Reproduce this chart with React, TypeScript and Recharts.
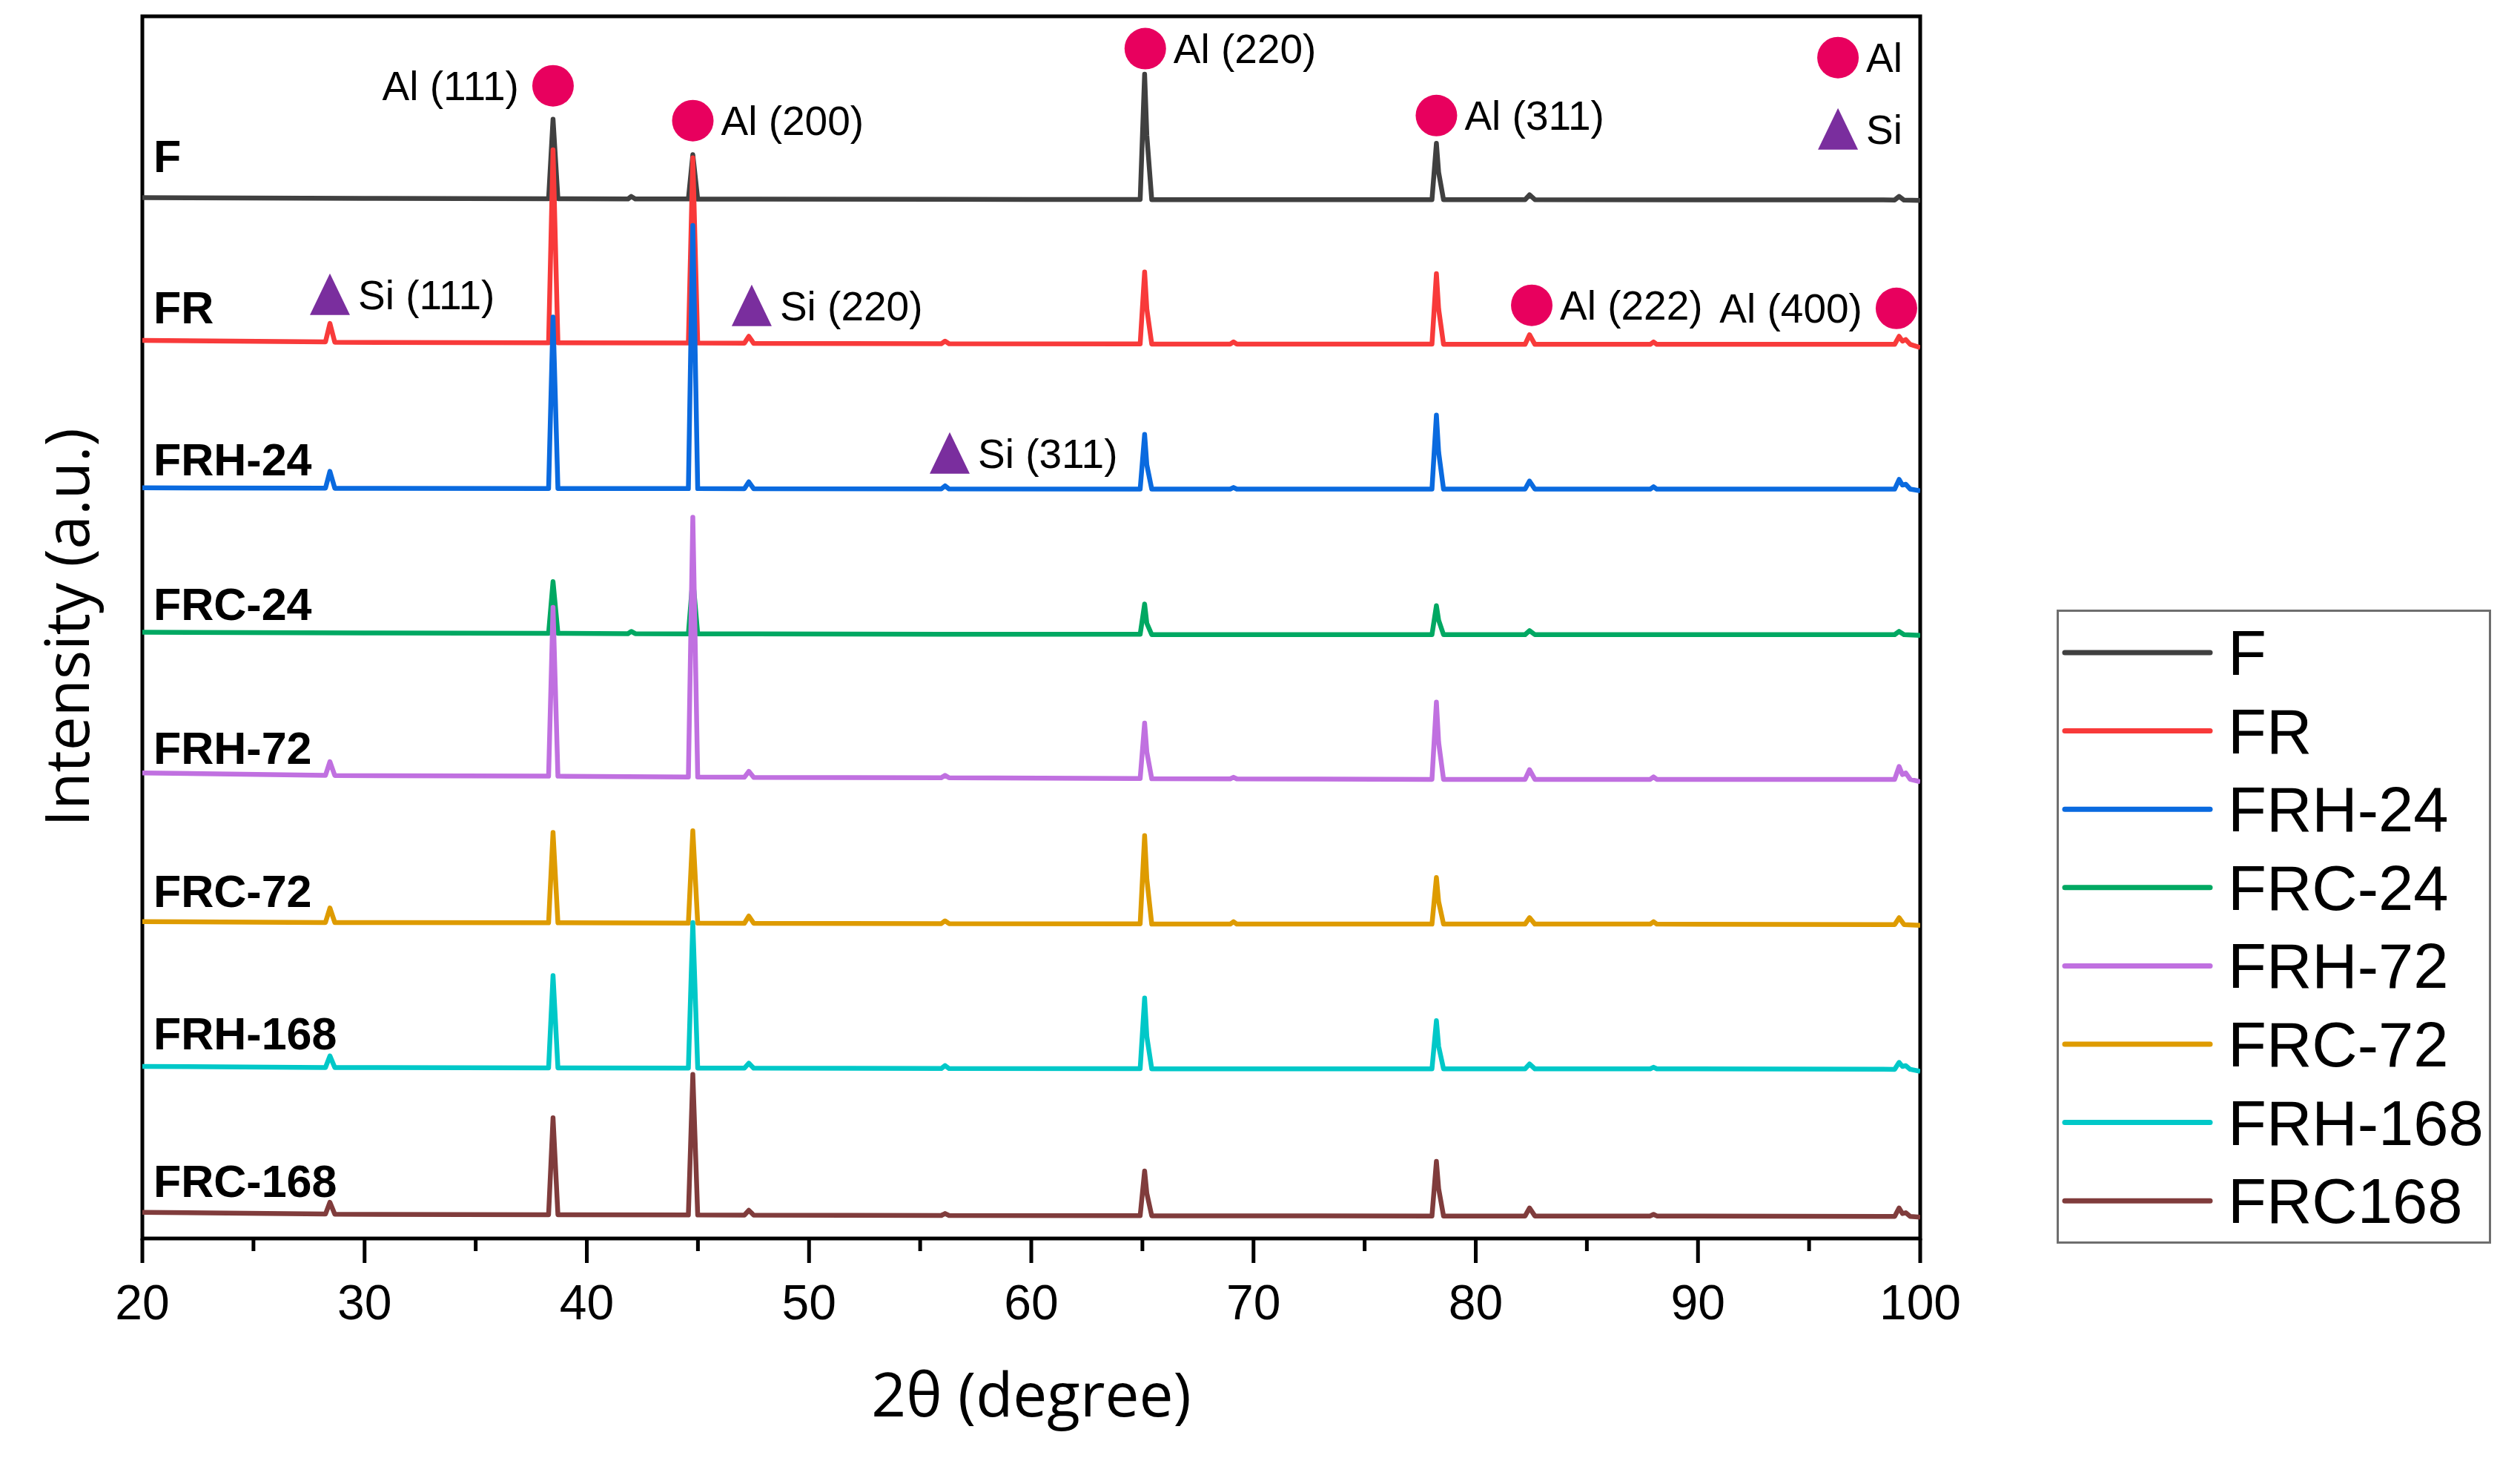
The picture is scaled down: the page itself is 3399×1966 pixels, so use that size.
import React from 'react';
import { LineChart, Line, XAxis, YAxis, ReferenceArea, ReferenceDot, Legend } from 'recharts';

// ---------- data ----------
const SERIES_NAMES = ['F', 'FR', 'FRH-24', 'FRC-24', 'FRH-72', 'FRC-72', 'FRH-168', 'FRC168'];
const SERIES_TAGS = ['F', 'FR', 'FRH-24', 'FRC-24', 'FRH-72', 'FRC-72', 'FRH-168', 'FRC-168'];
const SERIES_OFFSETS = [646, 556, 466, 375.5, 285.5, 195.5, 105.5, 14];

// [2θ, intensity above the series offset]
const F_PTS: [number, number][] = [
  [20, 1.2], [30, 0.8], [38.28, 0.6], [38.48, 50], [38.7, 0.6], [41.85, 0.4], [42.0, 2], [42.18, 0.4],
  [44.57, 0.4], [44.77, 28], [44.99, 0.3], [60, 0.1], [64.9, 0.1], [65.1, 78], [65.2, 40], [65.42, 0],
  [78.03, 0], [78.23, 35], [78.33, 17], [78.55, 0], [82.22, 0], [82.42, 3], [82.66, 0],
  [98.85, -0.2], [99.05, 2], [99.27, -0.3], [100, -0.5],
];
const FR_PTS: [number, number][] = [
  [20, 2.5], [28.24, 1.5], [28.44, 13], [28.66, 1.3], [38.28, 1], [38.48, 121], [38.7, 1],
  [44.57, 0.8], [44.77, 116], [44.99, 0.8], [47.09, 0.7], [47.29, 5], [47.51, 0.6],
  [55.95, 0.4], [56.12, 2], [56.3, 0.4], [64.9, 0.3], [65.1, 45], [65.2, 22], [65.42, 0.2],
  [68.95, 0.2], [69.1, 1.5], [69.25, 0.2], [78.03, 0.2], [78.23, 44], [78.33, 22], [78.55, 0.1],
  [82.22, 0], [82.42, 6], [82.66, 0], [87.85, 0], [88.0, 1.5], [88.15, 0],
  [98.85, 0], [99.05, 5], [99.2, 2], [99.35, 3], [99.55, 0], [100, -2],
];
const FRH24_PTS: [number, number][] = [
  [20, 0.8], [28.24, 0.6], [28.44, 11], [28.66, 0.5], [38.28, 0.4], [38.48, 107], [38.7, 0.4],
  [44.57, 0.3], [44.77, 164], [44.99, 0.3], [47.09, 0.2], [47.29, 4.5], [47.51, 0.2],
  [55.95, 0.1], [56.12, 2], [56.3, 0.1], [64.9, 0], [65.1, 34], [65.2, 15], [65.42, 0],
  [68.95, 0], [69.1, 1], [69.25, 0], [78.03, 0], [78.23, 46], [78.33, 23], [78.55, 0],
  [82.22, 0], [82.42, 5], [82.66, 0], [87.85, 0], [88.0, 1.5], [88.15, 0],
  [98.85, 0], [99.05, 6], [99.2, 2.5], [99.35, 3], [99.55, 0], [100, -1],
];
const FRC24_PTS: [number, number][] = [
  [20, 1.5], [30, 1], [38.28, 0.8], [38.48, 33], [38.7, 0.8], [41.85, 0.6], [42.0, 2], [42.18, 0.6],
  [44.57, 0.5], [44.77, 35], [44.99, 0.5], [60, 0.2], [64.9, 0.2], [65.1, 19], [65.2, 7], [65.42, 0],
  [78.03, 0], [78.23, 18], [78.33, 9], [78.55, 0], [82.22, 0], [82.42, 2.5], [82.66, 0],
  [98.85, 0], [99.05, 2], [99.27, 0], [100, -0.5],
];
const FRH72_PTS: [number, number][] = [
  [20, 4], [28.24, 2.5], [28.44, 11], [28.66, 2.4], [38.28, 2], [38.48, 107], [38.7, 2],
  [44.57, 1.5], [44.77, 163], [44.99, 1.5], [47.09, 1.3], [47.29, 5], [47.51, 1.2],
  [55.95, 1], [56.12, 2.5], [56.3, 1], [64.9, 0.5], [65.1, 35], [65.2, 17], [65.42, 0.4],
  [68.95, 0.3], [69.1, 1.3], [69.25, 0.3], [78.03, 0], [78.23, 48], [78.33, 23], [78.55, 0],
  [82.22, 0], [82.42, 6], [82.66, 0], [87.85, 0], [88.0, 1.5], [88.15, 0],
  [98.85, 0], [99.05, 8], [99.2, 3], [99.35, 4], [99.55, 0], [100, -1.5],
];
const FRC72_PTS: [number, number][] = [
  [20, 1.5], [28.24, 1], [28.44, 10], [28.66, 1], [38.28, 0.8], [38.48, 57], [38.7, 0.8],
  [44.57, 0.6], [44.77, 58], [44.99, 0.6], [47.09, 0.5], [47.29, 5], [47.51, 0.5],
  [55.95, 0.3], [56.12, 2], [56.3, 0.3], [64.9, 0.2], [65.1, 55], [65.2, 28], [65.42, 0],
  [68.95, 0], [69.1, 1.5], [69.25, 0], [78.03, 0], [78.23, 29], [78.33, 14], [78.55, 0],
  [82.22, 0], [82.42, 4], [82.66, 0], [87.85, 0], [88.0, 1.5], [88.15, 0],
  [98.85, -0.3], [99.05, 4], [99.27, -0.3], [100, -0.8],
];
const FRH168_PTS: [number, number][] = [
  [20, 1.5], [28.24, 0.8], [28.44, 8], [28.66, 0.8], [38.28, 0.6], [38.48, 58], [38.7, 0.6],
  [44.57, 0.5], [44.77, 91], [44.99, 0.5], [47.09, 0.4], [47.29, 3.5], [47.51, 0.4],
  [55.95, 0.2], [56.12, 2], [56.3, 0.2], [64.9, 0.1], [65.1, 44], [65.2, 20], [65.42, 0],
  [78.03, 0], [78.23, 30], [78.33, 14], [78.55, 0], [82.22, 0], [82.42, 3], [82.66, 0],
  [87.85, 0], [88.0, 1], [88.15, 0], [98.85, -0.3], [99.05, 4], [99.2, 1.5], [99.35, 2], [99.55, -0.3], [100, -1.5],
];
const FRC168_PTS: [number, number][] = [
  [20, 2.3], [28.24, 1.2], [28.44, 8.5], [28.66, 1.1], [38.28, 0.8], [38.48, 61], [38.7, 0.8],
  [44.57, 0.6], [44.77, 88], [44.99, 0.6], [47.09, 0.5], [47.29, 3.5], [47.51, 0.5],
  [55.95, 0.3], [56.12, 1.5], [56.3, 0.3], [64.9, 0.2], [65.1, 28], [65.2, 14], [65.42, 0.1],
  [78.03, 0], [78.23, 34], [78.33, 17], [78.55, 0], [82.22, 0], [82.42, 5], [82.66, 0],
  [87.85, 0], [88.0, 1], [88.15, 0], [98.85, -0.3], [99.05, 5], [99.2, 1.5], [99.35, 2], [99.55, -0.3], [100, -0.8],
];
const SERIES_POINTS = [F_PTS, FR_PTS, FRH24_PTS, FRC24_PTS, FRH72_PTS, FRC72_PTS, FRH168_PTS, FRC168_PTS];

const X_TICKS = [20, 25, 30, 35, 40, 45, 50, 55, 60, 65, 70, 75, 80, 85, 90, 95, 100];
const X_TICK_LABELS = ['20', '', '30', '', '40', '', '50', '', '60', '', '70', '', '80', '', '90', '', '100'];

// phase annotations (marker position in data units)
const ANNOTATIONS: { x: number; y: number; text: string; marker: 'circle' | 'triangle'; side: 'left' | 'right' }[] = [
  { x: 38.48, y: 716.8, text: 'Al (111)', marker: 'circle', side: 'left' },
  { x: 44.77, y: 695.1, text: 'Al (200)', marker: 'circle', side: 'right' },
  { x: 65.13, y: 739.9, text: 'Al (220)', marker: 'circle', side: 'right' },
  { x: 78.23, y: 698.3, text: 'Al (311)', marker: 'circle', side: 'right' },
  { x: 96.3, y: 734.3, text: 'Al', marker: 'circle', side: 'right' },
  { x: 96.3, y: 689.6, text: 'Si', marker: 'triangle', side: 'right' },
  { x: 28.44, y: 586.7, text: 'Si (111)', marker: 'triangle', side: 'right' },
  { x: 47.42, y: 579.8, text: 'Si (220)', marker: 'triangle', side: 'right' },
  { x: 56.33, y: 488, text: 'Si (311)', marker: 'triangle', side: 'right' },
  { x: 82.52, y: 580.3, text: 'Al (222)', marker: 'circle', side: 'right' },
  { x: 98.93, y: 578.4, text: 'Al (400)', marker: 'circle', side: 'left' },
];

// ---------- styles ----------
const SERIES_COLORS = ['#404040', '#F83A3A', '#0A6ADF', '#00A862', '#C070E0', '#DE9B00', '#00C8C8', '#803C3C'];
const LABEL_LIFT = [17, 13, 8.5, 9, 9.5, 10.5, 12, 12];
const AL_COLOR = '#E8005E';
const SI_COLOR = '#7A2E9E';
const SANS = '"Liberation Sans", Arial, sans-serif';
const TITLE_FONT = '"Open Sans", "Noto Sans", sans-serif';

const seriesData = SERIES_POINTS.map((pts, i) => pts.map(([x, v]) => ({ x, y: SERIES_OFFSETS[i] + v })));

const XTick = (props: any) => {
  const { x, y, index } = props;
  const label = X_TICK_LABELS[index] ?? '';
  const major = label !== '';
  return (
    <g>
      <line x1={x} x2={x} y1={y} y2={y + (major ? 33 : 17)} stroke="#000" strokeWidth={5} />
      {major && (
        <text x={x} y={y + 109} textAnchor="middle" fontSize={66} fontFamily={SANS} fill="#000">
          {label}
        </text>
      )}
    </g>
  );
};

const XTitle = (props: any) => {
  const vb = props.viewBox || { x: 192, y: 1670, width: 2398, height: 296 };
  return (
    <text x={vb.x + vb.width / 2} y={vb.y + 240} textAnchor="middle" fontSize={82} fontFamily={TITLE_FONT} fill="#000">
      2θ (degree)
    </text>
  );
};

const YTitle = (props: any) => {
  const vb = props.viewBox || { x: 0, y: 22, width: 192, height: 1648 };
  const cx = vb.x + 120;
  const cy = vb.y + vb.height / 2;
  return (
    <text x={cx} y={cy} transform={`rotate(-90 ${cx} ${cy})`} textAnchor="middle" fontSize={82} fontFamily={TITLE_FONT} fill="#000">
      Intensity (a.u.)
    </text>
  );
};

const makeMarker = (a: (typeof ANNOTATIONS)[number]) => (p: any) => {
  const { cx, cy } = p;
  const color = a.marker === 'circle' ? AL_COLOR : SI_COLOR;
  const tx = a.side === 'right' ? cx + 38 : cx - 46;
  return (
    <g>
      {a.marker === 'circle' ? (
        <circle cx={cx} cy={cy} r={28} fill={color} />
      ) : (
        <polygon points={`${cx},${cy - 29} ${cx - 27},${cy + 27} ${cx + 27},${cy + 27}`} fill={color} />
      )}
      <text x={tx} y={cy + 19} textAnchor={a.side === 'right' ? 'start' : 'end'} fontSize={55} fontFamily={SANS} fill="#000">
        {a.text}
      </text>
    </g>
  );
};

const makeTag = (text: string) => (p: any) => (
  <text x={p.cx} y={p.cy} fontSize={61} fontWeight="bold" fontFamily={SANS} fill="#000">
    {text}
  </text>
);

const LegendBox = (props: any) => {
  const payload = [...(props.payload || [])].sort(
    (a: any, b: any) => SERIES_NAMES.indexOf(a.value) - SERIES_NAMES.indexOf(b.value)
  );
  return (
    <svg width={586} height={855} style={{ display: 'block' }}>
      <rect x={1.5} y={1.5} width={583} height={852} fill="#fff" stroke="#6e6e6e" strokeWidth={3} />
      {payload.map((p: any, i: number) => {
        const cy = 58 + i * 105.6;
        return (
          <g key={p.value}>
            <line x1={11} x2={207} y1={cy} y2={cy} stroke={p.color} strokeWidth={7} strokeLinecap="round" />
            <text x={231} y={cy + 30} fontSize={85} fontFamily={SANS} fill="#000">
              {p.value}
            </text>
          </g>
        );
      })}
    </svg>
  );
};

export default function App() {
  return (
    <div style={{ position: 'absolute', left: 0, top: 0, width: 3399, height: 1966, background: '#fff' }}>
      <LineChart width={3399} height={1966} margin={{ top: 22, right: 809, bottom: 0, left: 0 }}>
        <XAxis
          type="number"
          dataKey="x"
          domain={[20, 100]}
          ticks={X_TICKS}
          interval={0}
          allowDataOverflow
          height={296}
          axisLine={false}
          tickLine={false}
          tickSize={0}
          tickMargin={0}
          tick={<XTick />}
          label={<XTitle />}
        />
        <YAxis
          type="number"
          domain={[0, 760]}
          allowDataOverflow
          width={192}
          tick={false}
          axisLine={false}
          tickLine={false}
          label={<YTitle />}
        />
        <ReferenceArea x1={20} x2={100} y1={0} y2={760} fill="none" stroke="#000" strokeWidth={5} ifOverflow="visible" />
        {seriesData.map((d, i) => (
          <Line
            key={SERIES_NAMES[i]}
            data={d}
            dataKey="y"
            name={SERIES_NAMES[i]}
            type="linear"
            stroke={SERIES_COLORS[i]}
            strokeWidth={6.5}
            strokeLinejoin="round"
            dot={false}
            activeDot={false}
            isAnimationActive={false}
          />
        ))}
        {SERIES_TAGS.map((t, i) => (
          <ReferenceDot key={t} x={20.5} y={SERIES_OFFSETS[i] + LABEL_LIFT[i]} r={1} shape={makeTag(t)} ifOverflow="visible" />
        ))}
        {ANNOTATIONS.map((a) => (
          <ReferenceDot key={a.text} x={a.x} y={a.y} r={1} shape={makeMarker(a)} ifOverflow="visible" />
        ))}
        <Legend
          layout="vertical"
          align="center"
          verticalAlign="middle"
          content={<LegendBox />}
          wrapperStyle={{ position: 'absolute', left: 2774, top: 822, width: 586, height: 855, margin: 0, padding: 0 }}
        />
      </LineChart>
    </div>
  );
}
